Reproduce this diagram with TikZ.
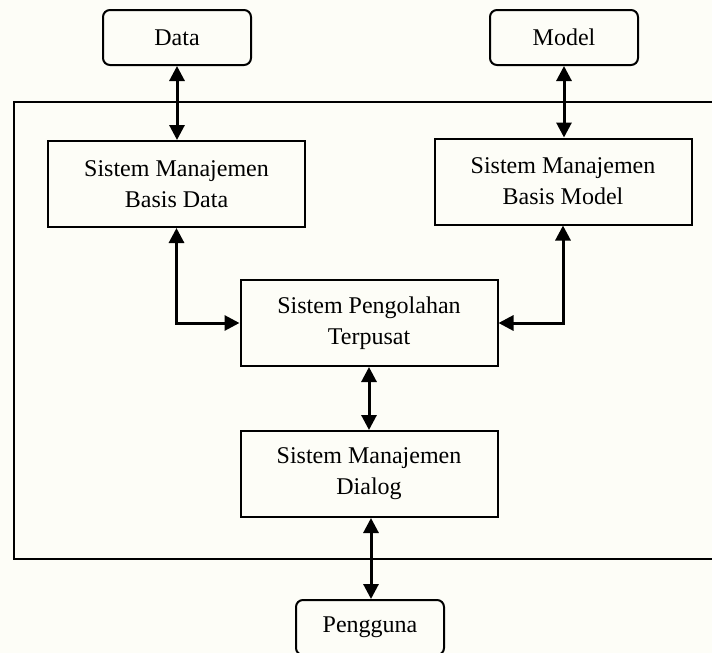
\documentclass[tikz,border=0pt]{standalone}
\usepackage{fontspec}
\setmainfont{Liberation Serif}
\usetikzlibrary{arrows.meta}
\definecolor{paper}{RGB}{253,253,247}
\tikzset{
  box/.style={draw, line width=1pt, minimum width=128.5pt, minimum height=43pt,
              align=center, inner sep=0pt, font=\fontsize{12}{15.5}\selectfont},
  endbox/.style={draw, line width=1pt, rounded corners=3.5pt, minimum width=74pt,
              minimum height=27.5pt, inner sep=0pt, font=\fontsize{12}{14}\selectfont},
  link/.style={line width=1.5pt, {Triangle[length=7.5pt,width=7.5pt]}-{Triangle[length=7.5pt,width=7.5pt]}},
  frame/.style={line width=1pt}
}
\begin{document}
\begin{tikzpicture}[x=0.5pt,y=-0.5pt]
  % page area
  \fill[paper] (0,0) rectangle (712,653);
  \useasboundingbox (0,0) rectangle (712,653);
  \clip (0,0) rectangle (712,653);

  % system boundary (open to the right)
  \draw[frame] (14,102) rectangle (740,559);

  % external entities
  \node[endbox] (data)  at (177,37.5)  {Data};
  \node[endbox] (model) at (564,37.5)  {Model};
  \node[endbox] (user)  at (370,627.5) {Pengguna};

  % subsystems
  \node[box] (dbms) at (176.5,184)   {Sistem Manajemen\\Basis Data};
  \node[box] (mbms) at (563,181.5)   {Sistem Manajemen\\Basis Model};
  \node[box] (core) at (369,323)     {Sistem Pengolahan\\Terpusat};
  \node[box] (dlg)  at (369,474)     {Sistem Manajemen\\Dialog};

  % connections
  \draw[link] (data.south)  -- (data.south |- dbms.north);
  \draw[link] (model.south) -- (model.south |- mbms.north);
  \draw[link] (dbms.south)  |- (core.west);
  \draw[link] (mbms.south)  |- (core.east);
  \draw[link] (core.south)  -- (core.south |- dlg.north);
  \draw[link] ([xshift=1pt]dlg.south) -- ([xshift=1pt]dlg.south |- user.north);
\end{tikzpicture}
\end{document}
